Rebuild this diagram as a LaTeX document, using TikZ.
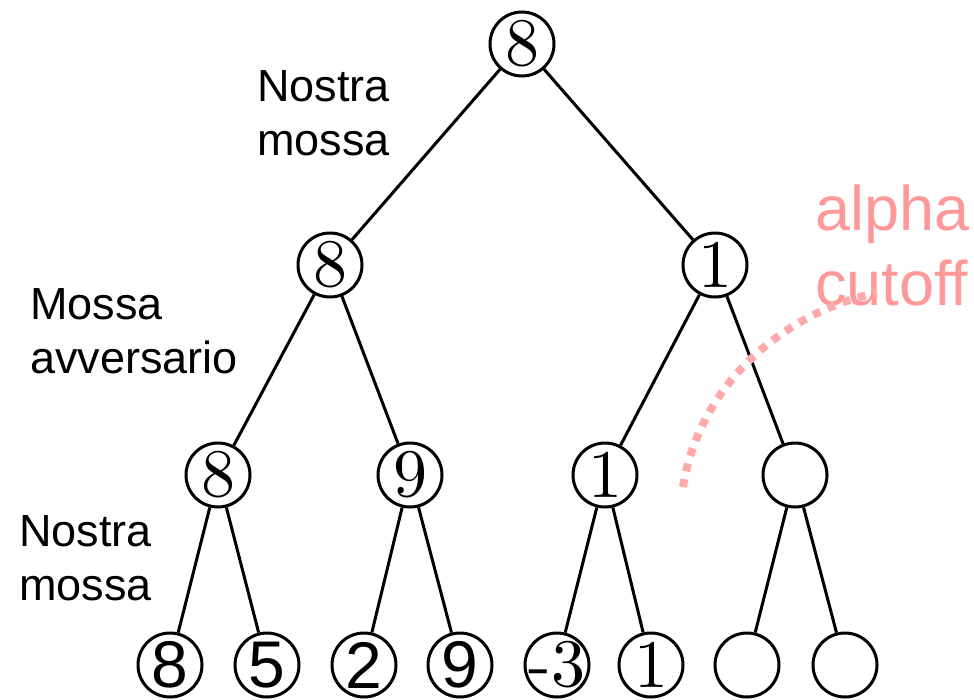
\documentclass[tikz,border=0pt]{standalone}
\usepackage{fontspec}
\newfontfamily\arialf{Liberation Sans}
\newfontfamily\lmten{lmroman10-regular}[Extension=.otf]
\definecolor{cutpink}{RGB}{255,153,153}
\definecolor{dotpink}{RGB}{255,170,170}
\tikzset{
  tnode/.style={circle,draw=black,line width=3pt,minimum size=64pt,inner sep=0pt},
  serifnum/.style={font=\lmten\fontsize{68}{68}\selectfont},
  sansnum/.style={font=\arialf\fontsize{66}{66}\selectfont},
  edge/.style={line width=3pt},
  lvl/.style={font=\arialf\fontsize{45}{54}\selectfont,align=left,anchor=base west,inner sep=0pt},
  cutlabel/.style={font=\arialf\fontsize{63}{75}\selectfont,align=left,anchor=base west,inner sep=0pt,text=cutpink},
}
\begin{document}
\begin{tikzpicture}[x=1pt,y=-1pt]
\useasboundingbox (0,0) rectangle (974,699);
% internal nodes
\node[tnode,serifnum] (r) at (522,44) {8};
\node[tnode,serifnum] (a) at (330,265) {8};
\node[tnode,serifnum] (b) at (715,265) {1};
\node[tnode,serifnum] (aa) at (218,475) {8};
\node[tnode,serifnum] (ab) at (410,475) {9};
\node[tnode,serifnum] (ba) at (605,475) {1};
\node[tnode] (bb) at (795,475) {};
% leaves
\node[tnode,sansnum] (l1) at (170,665) {8};
\node[tnode,sansnum] (l2) at (267,665) {5};
\node[tnode,sansnum] (l3) at (364,665) {2};
\node[tnode,sansnum] (l4) at (460,665) {9};
\node[tnode,serifnum] (l5) at (557,665) {\makebox[30pt]{-3}};
\node[tnode,serifnum] (l6) at (651,665) {1};
\node[tnode] (l7) at (747,665) {};
\node[tnode] (l8) at (845,665) {};
% edges
\draw[edge] (r) -- (a);
\draw[edge] (r) -- (b);
\draw[edge] (a) -- (aa);
\draw[edge] (a) -- (ab);
\draw[edge] (b) -- (ba);
\draw[edge] (b) -- (bb);
\draw[edge] (aa) -- (l1);
\draw[edge] (aa) -- (l2);
\draw[edge] (ab) -- (l3);
\draw[edge] (ab) -- (l4);
\draw[edge] (ba) -- (l5);
\draw[edge] (ba) -- (l6);
\draw[edge] (bb) -- (l7);
\draw[edge] (bb) -- (l8);
% level labels (anchor = baseline of last line)
\node[lvl] (t1) at (257,155) {Nostra\\mossa};
\node[lvl] (t2) at (30,373) {Mossa\\avversario};
\node[lvl] (t3) at (19,600) {Nostra\\mossa};
% cutoff
\node[cutlabel] (cut) at (815,305) {alpha\\cutoff};
\coordinate (cs) at (683,487);
\coordinate (ce) at (877,293);
\draw[dotpink,line width=8pt,dash pattern=on 8pt off 8pt] (cs) .. controls (700,380) and (790,310) .. (ce);
\end{tikzpicture}
\end{document}
